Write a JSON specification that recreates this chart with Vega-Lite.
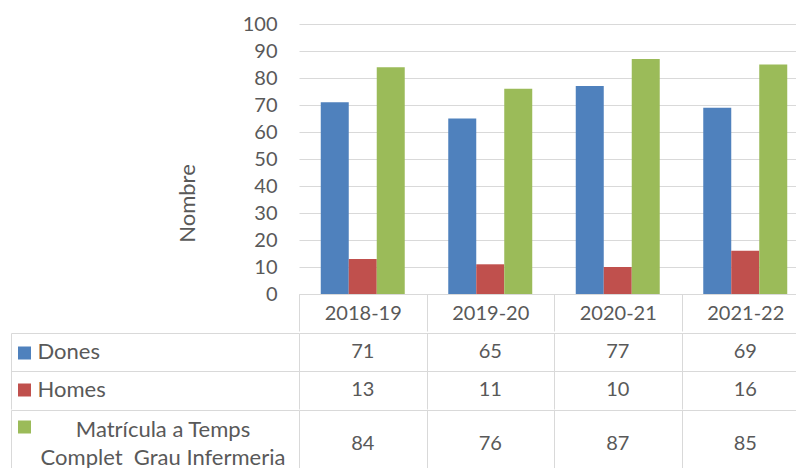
{
  "$schema": "https://vega.github.io/schema/vega-lite/v6.json",
  "padding": {"left": 10, "top": 14, "right": 0, "bottom": 0},
  "config": {"view": {"stroke": null}, "font": "Lato"},
  "datasets": {
    "d": [
      {"year": "2018-19", "series": "Dones", "value": 71},
      {"year": "2019-20", "series": "Dones", "value": 65},
      {"year": "2020-21", "series": "Dones", "value": 77},
      {"year": "2021-22", "series": "Dones", "value": 69},
      {"year": "2018-19", "series": "Homes", "value": 13},
      {"year": "2019-20", "series": "Homes", "value": 11},
      {"year": "2020-21", "series": "Homes", "value": 10},
      {"year": "2021-22", "series": "Homes", "value": 16},
      {"year": "2018-19", "series": "Matrícula a Temps Complet Grau Infermeria", "value": 84},
      {"year": "2019-20", "series": "Matrícula a Temps Complet Grau Infermeria", "value": 76},
      {"year": "2020-21", "series": "Matrícula a Temps Complet Grau Infermeria", "value": 87},
      {"year": "2021-22", "series": "Matrícula a Temps Complet Grau Infermeria", "value": 85}
    ]
  },
  "data": {"name": "d"},
  "spacing": 0,
  "resolve": {"scale": {"x": "independent", "y": "independent", "color": "shared"}},
  "vconcat": [
    {
      "width": 510,
      "height": 270,
      "mark": {"type": "bar"},
      "encoding": {
        "x": {
          "field": "year", "type": "nominal",
          "scale": {"paddingInner": 0, "paddingOuter": 0},
          "axis": {"title": null, "labelAngle": 0, "domainColor": "#d9d9d9", "tickColor": "#d9d9d9", "tickSize": 37, "tickOffset": -63.75, "labelOffset": 63.75, "labelBaseline": "middle", "labelPadding": -18, "labelFontSize": 20, "labelColor": "#595959", "grid": false}
        },
        "xOffset": {
          "field": "series", "type": "nominal",
          "scale": {"domain": ["Dones", "Homes", "Matrícula a Temps Complet Grau Infermeria"], "paddingInner": 0, "paddingOuter": 0.777}
        },
        "y": {
          "field": "value", "type": "quantitative",
          "scale": {"domain": [0, 100]},
          "axis": {"title": "Nombre", "values": [0, 10, 20, 30, 40, 50, 60, 70, 80, 90, 100], "domain": false, "ticks": false, "labelPadding": 22, "gridColor": "#d9d9d9", "labelFontSize": 20, "labelColor": "#595959", "titleX": -112, "titleY": 179, "titleBaseline": "middle", "titleFontSize": 22, "titleFontWeight": "normal", "titleColor": "#595959"}
        },
        "color": {
          "field": "series", "type": "nominal",
          "scale": {"domain": ["Dones", "Homes", "Matrícula a Temps Complet Grau Infermeria"], "range": ["#4F81BD", "#C0504D", "#9BBB59"]},
          "legend": {"orient": "none", "legendX": -281, "legendY": 322.5, "title": null, "symbolType": "square", "symbolSize": 169, "symbolStrokeWidth": 0, "symbolOpacity": 1, "labelExpr": "''", "rowPadding": 24, "direction": "vertical"}
        }
      }
    },
    {
      "width": 510,
      "height": 76,
      "transform": [{"filter": "datum.series !== 'Matrícula a Temps Complet Grau Infermeria'"}],
      "mark": {"type": "text", "fontSize": 20, "color": "#595959"},
      "encoding": {
        "x": {
          "field": "year", "type": "nominal",
          "scale": {"paddingInner": 0, "paddingOuter": 0},
          "axis": {"title": null, "labels": false, "ticks": false, "domain": false, "grid": true, "tickOffset": -63.75, "gridColor": "#d9d9d9"}
        },
        "y": {
          "field": "series", "type": "nominal",
          "sort": ["Dones", "Homes"],
          "scale": {"paddingInner": 0, "paddingOuter": 0},
          "axis": {"title": null, "grid": true, "tickOffset": -19, "labelOffset": 18, "gridColor": "#d9d9d9", "domain": true, "domainColor": "#d9d9d9", "offset": 288, "tickSize": -288, "tickColor": "#d9d9d9", "labelAlign": "left", "labelPadding": 262, "labelFontSize": 22, "labelColor": "#595959", "labelLimit": 0}
        },
        "text": {"field": "value", "type": "quantitative"}
      }
    },
    {
      "width": 510,
      "height": 68,
      "transform": [{"filter": "datum.series === 'Matrícula a Temps Complet Grau Infermeria'"}],
      "mark": {"type": "text", "fontSize": 20, "color": "#595959"},
      "encoding": {
        "x": {
          "field": "year", "type": "nominal",
          "scale": {"paddingInner": 0, "paddingOuter": 0},
          "axis": {"title": null, "labels": false, "ticks": false, "domain": false, "grid": true, "tickOffset": -63.75, "gridColor": "#d9d9d9"}
        },
        "y": {
          "field": "series", "type": "nominal",
          "scale": {"paddingInner": 0, "paddingOuter": 0},
          "axis": {"title": null, "grid": true, "tickOffset": -34, "labelOffset": 19, "gridColor": "#d9d9d9", "domain": true, "domainColor": "#d9d9d9", "offset": 288, "tickSize": -288, "tickColor": "#d9d9d9", "labelAlign": "center", "labelBaseline": "middle", "labelPadding": 136.5, "labelFontSize": 22, "labelColor": "#595959", "labelLimit": 0, "labelLineHeight": 28, "labelExpr": "['Matrícula a Temps', 'Complet\u00a0 Grau Infermeria']"}
        },
        "text": {"field": "value", "type": "quantitative"}
      }
    }
  ]
}
